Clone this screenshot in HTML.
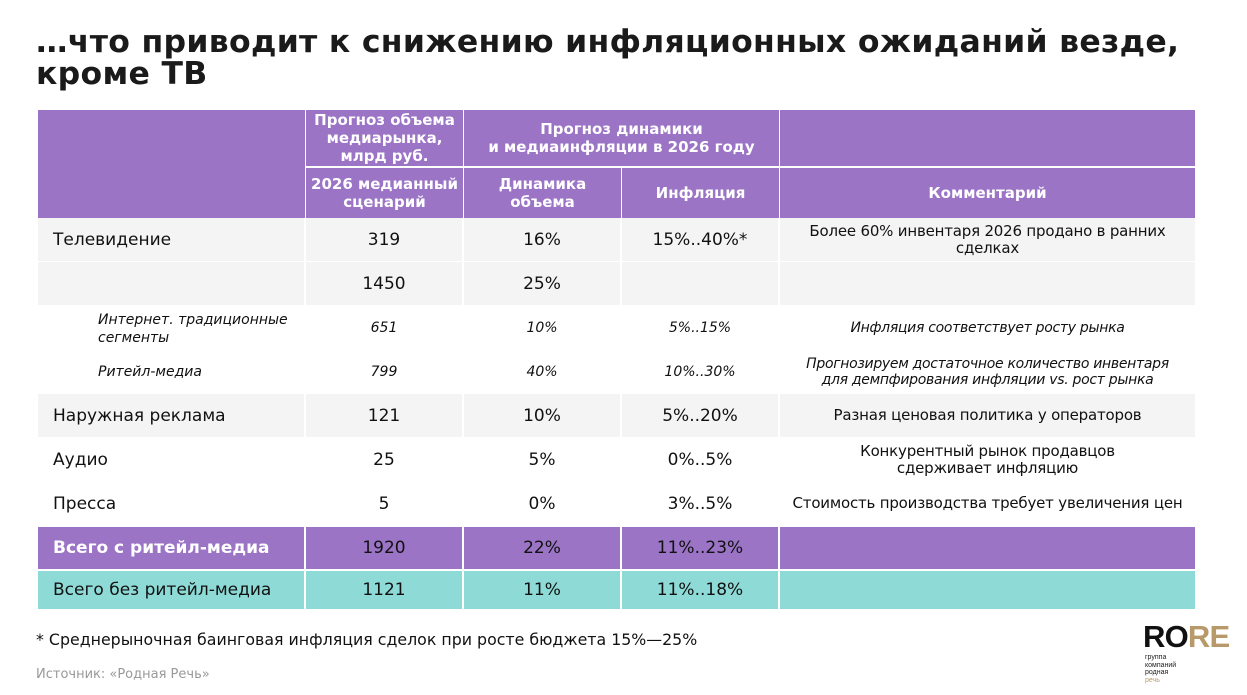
<!DOCTYPE html>
<html><head><meta charset="utf-8"><style>
body{margin:0;width:1247px;height:695px;background:#fff;font-family:"DejaVu Sans","Liberation Sans",sans-serif;position:relative;overflow:hidden;color:#111}
.t{position:absolute;left:36px;top:26px;font-size:31.5px;font-weight:bold;line-height:32px;color:#1a1a1a;letter-spacing:0.3px}
.c{position:absolute;display:flex;align-items:center;justify-content:center;text-align:center;box-sizing:border-box}
.h{background:#9b74c6;color:#fff;font-weight:bold;font-size:15px;line-height:18px}
.r{font-size:17px}
.i{font-style:italic;font-size:14px}
.cm{font-size:15px;line-height:17px;padding:0 4px;letter-spacing:-0.2px}
</style></head><body>
<div class="t">…что приводит к снижению инфляционных ожиданий везде,<br>кроме ТВ</div>
<div id="tbl"></div>
<script>
var X=[38,306,464,622,780,1195];
var H='';
function cell(x1,x2,y1,y2,cls,txt,bg,extra){H+='<div class="c '+cls+'" style="left:'+x1+'px;top:'+y1+'px;width:'+(x2-x1)+'px;height:'+(y2-y1)+'px;'+(bg?'background:'+bg+';':'')+(extra||'')+'">'+txt+'</div>';}
cell(X[0],X[1]-1,110,218,'h','');
cell(X[1],X[2]-1,110,166,'h','Прогноз объема медиарынка, млрд руб.');
cell(X[2],X[4]-1,110,166,'h','Прогноз динамики<br>и медиаинфляции в 2026 году');
cell(X[4],X[5],110,166,'h','');
cell(X[1],X[2]-1,168,218,'h','2026 медианный сценарий');
cell(X[2],X[3]-1,168,218,'h','Динамика<br>объема');
cell(X[3],X[4]-1,168,218,'h','Инфляция');
cell(X[4],X[5],168,218,'h','Комментарий');
var rows=[
['Телевидение','319','16%','15%..40%*','Более 60% инвентаря 2026 продано в ранних<br>сделках','#f4f4f4','r',218,262],
['','1450','25%','','','#f4f4f4','r',262,306],
['Интернет. традиционные сегменты','651','10%','5%..15%','Инфляция соответствует росту рынка','#fff','i',306,350],
['Ритейл-медиа','799','40%','10%..30%','Прогнозируем достаточное количество инвентаря<br>для демпфирования инфляции vs. рост рынка','#fff','i',350,394],
['Наружная реклама','121','10%','5%..20%','Разная ценовая политика у операторов','#f4f4f4','r',394,438],
['Аудио','25','5%','0%..5%','Конкурентный рынок продавцов<br>сдерживает инфляцию','#fff','r',438,482],
['Пресса','5','0%','3%..5%','Стоимость производства требует увеличения цен','#fff','r',482,526],
['Всего с ритейл-медиа','1920','22%','11%..23%','','#9b74c6','r',527,570],
['Всего без ритейл-медиа','1121','11%','11%..18%','','#8ddad6','r',571,610]];
rows.forEach(function(r,k){
 var bg=r[5],cls=r[6],y1=r[7],y2=r[8];
 var lpad=cls=='i'?'padding-left:60px;':'padding-left:15px;';
 var st='justify-content:flex-start;text-align:left;'+lpad;
 if(k==7) st+='color:#fff;font-weight:bold;';
 if(cls=='i') st+='align-items:flex-start;padding-top:5px;line-height:18px;'+(k==3?'padding-top:13px;':'');
 cell(X[0],X[1]-2,y1,y2-1,cls,r[0],bg,st);
 cell(X[1],X[2]-2,y1,y2-1,cls,r[1],bg,'');
 cell(X[2],X[3]-2,y1,y2-1,cls,r[2],bg,'');
 cell(X[3],X[4]-2,y1,y2-1,cls,r[3],bg,(k==0?'align-items:flex-start;padding-top:12px;':''));
 cell(X[4],X[5],y1,y2-1,(cls=='i'?'i':'cm'),r[4],bg,(k==0?'align-items:flex-start;padding-top:5px;':'')+(cls=='i'?'line-height:16px;letter-spacing:-0.3px;':''));
});
document.getElementById('tbl').innerHTML=H;
</script>
<div style="position:absolute;left:36px;top:630px;font-size:15.8px;color:#111">* Среднерыночная баинговая инфляция сделок при росте бюджета 15%—25%</div>
<div style="position:absolute;left:36px;top:667px;font-size:13px;color:#999">Источник: «Родная Речь»</div>
<div style="position:absolute;left:1143px;top:621px;font-family:'Liberation Sans',sans-serif;font-weight:bold;font-size:31px;letter-spacing:-0.8px;line-height:32px"><span style="color:#111">RO</span><span style="color:#b89a6a">RE</span></div>
<div style="position:absolute;left:1145px;top:654px;font-family:'Liberation Sans',sans-serif;font-size:7px;line-height:7.5px;color:#222">группа<br>компаний<br>родная<br><span style="color:#b89a6a">речь</span></div>
</body></html>
